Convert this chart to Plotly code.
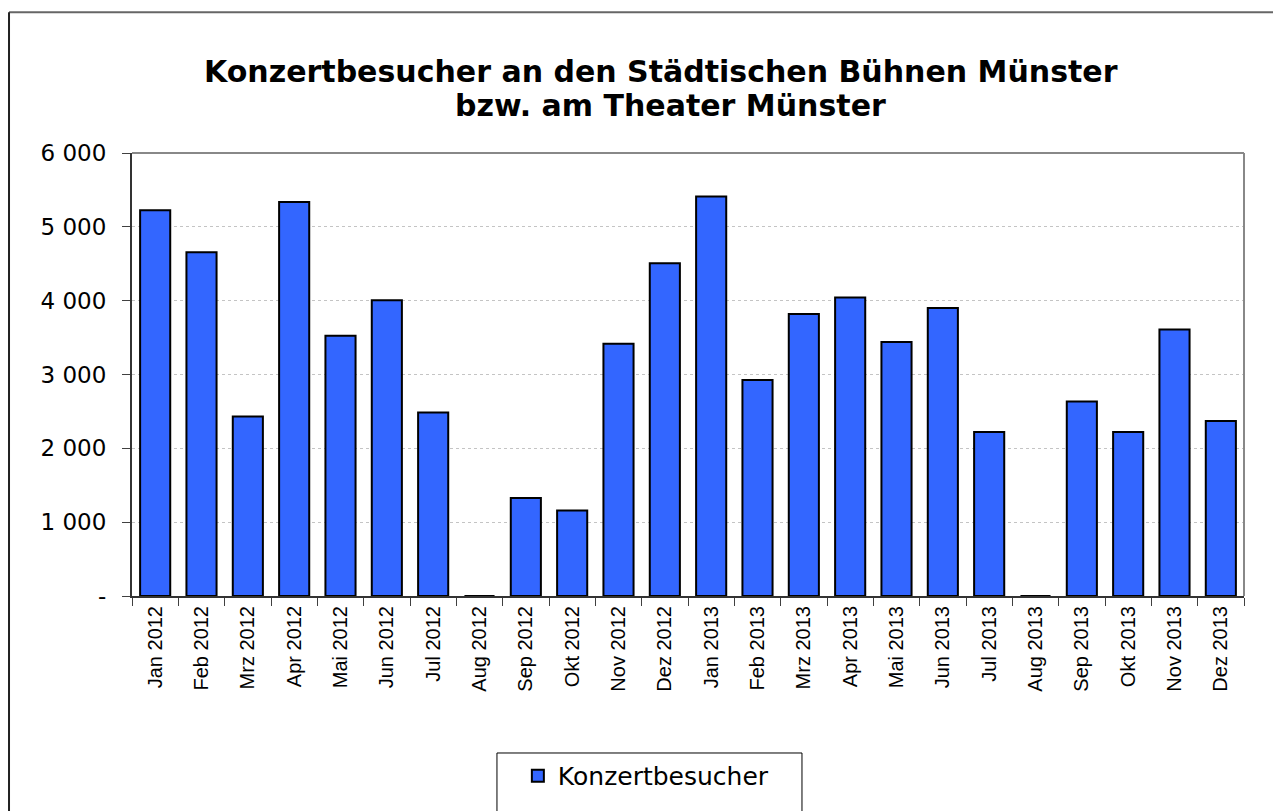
import plotly.graph_objects as go

months = ["Jan 2012", "Feb 2012", "Mrz 2012", "Apr 2012", "Mai 2012", "Jun 2012",
          "Jul 2012", "Aug 2012", "Sep 2012", "Okt 2012", "Nov 2012", "Dez 2012",
          "Jan 2013", "Feb 2013", "Mrz 2013", "Apr 2013", "Mai 2013", "Jun 2013",
          "Jul 2013", "Aug 2013", "Sep 2013", "Okt 2013", "Nov 2013", "Dez 2013"]
besucher = [5226, 4656, 2432, 5335, 3526, 4005,
            2486, 0, 1329, 1157, 3418, 4507,
            5411, 2925, 3820, 4042, 3440, 3901,
            2220, 0, 2636, 2220, 3608, 2369]
y_tickvals = [0, 1000, 2000, 3000, 4000, 5000, 6000]
y_ticktext = ["-", "1 000", "2 000", "3 000", "4 000", "5 000", "6 000"]
series_name = "Konzertbesucher"
title_line1 = "Konzertbesucher an den Städtischen Bühnen Münster"
title_line2 = "bzw. am Theater Münster"

fig = go.Figure()
fig.add_trace(go.Bar(
    x=months, y=besucher, name=series_name,
    marker=dict(color="#3366FF", line=dict(color="black", width=2)),
    showlegend=True,
))

fig.update_layout(
    width=1273, height=803,
    paper_bgcolor="white", plot_bgcolor="white",
    margin=dict(l=124, r=37, t=145, b=215),
    bargap=0.35,
    font=dict(family="DejaVu Sans", size=18, color="black"),
    showlegend=True,
    legend=dict(orientation="h", x=0.347, xanchor="left", y=-0.3544, yanchor="top",
                borderwidth=0, bgcolor="rgba(0,0,0,0)",
                font=dict(family="DejaVu Sans", size=25, color="black"),
                itemsizing="constant"),
    xaxis=dict(
        type="category", tickangle=-90, tickson="boundaries",
        ticks="outside", ticklen=8, tickcolor="#404040", tickwidth=1,
        showline=True, linecolor="#333333", linewidth=2,
        showgrid=False,
        tickfont=dict(family="Liberation Sans, Arial", size=20, color="black"),
    ),
    yaxis=dict(
        range=[0, 6000], tickvals=y_tickvals, ticktext=y_ticktext,
        ticks="outside", ticklen=8, tickcolor="#404040", tickwidth=1,
        ticklabelstandoff=11,
        showline=True, linecolor="#333333", linewidth=2,
        showgrid=True, gridcolor="#C4C4C4", griddash="dot", gridwidth=1,
        zeroline=False,
        tickfont=dict(family="DejaVu Sans", size=23, color="black"),
    ),
)

# two-line chart title
fig.add_annotation(text="<b>" + title_line1 + "</b>", xref="paper", yref="paper",
                   x=0.0627, y=1.183, xanchor="left", yanchor="middle", showarrow=False,
                   font=dict(family="DejaVu Sans", size=30, color="black"))
fig.add_annotation(text="<b>" + title_line2 + "</b>", xref="paper", yref="paper",
                   x=0.2887, y=1.107, xanchor="left", yanchor="middle", showarrow=False,
                   font=dict(family="DejaVu Sans", size=30, color="black"))

# plot-area top and right border (grey)
fig.add_shape(type="line", xref="paper", yref="paper", x0=0, x1=1, y0=1, y1=1,
              line=dict(color="#888888", width=2))
fig.add_shape(type="line", xref="paper", yref="paper", x0=1, x1=1, y0=0, y1=1,
              line=dict(color="#888888", width=2))
# legend frame
fig.add_shape(type="rect", xref="paper", yref="paper", x0=0.3282, x1=0.6025, y0=-0.3544, y1=-0.6,
              line=dict(color="black", width=1))
# chart outer border (top and left)
fig.add_shape(type="line", xref="paper", yref="paper", x0=-0.1106, x1=1.05, y0=1.318, y1=1.318,
              line=dict(color="#666666", width=2))
fig.add_shape(type="line", xref="paper", yref="paper", x0=-0.1106, x1=-0.1106, y0=-0.5, y1=1.318,
              line=dict(color="#222222", width=2))

fig.write_html("out.html")
